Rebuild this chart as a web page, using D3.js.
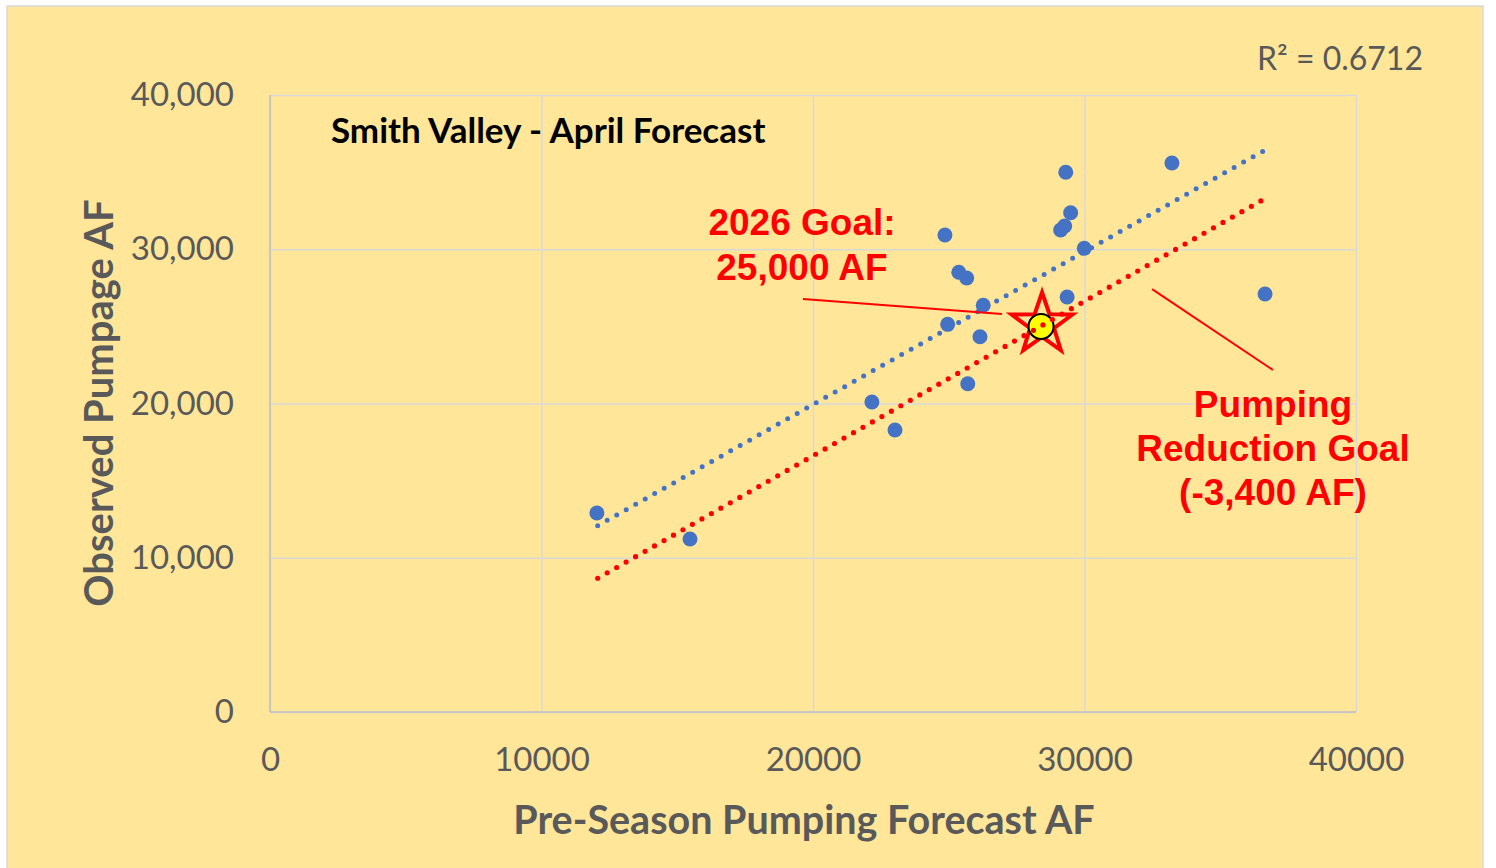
<!DOCTYPE html>
<html>
<head>
<meta charset="utf-8">
<script src="https://cdn.jsdelivr.net/npm/d3@7"></script>
<style>
  body { margin: 0; background: #fff; }
  svg text { font-family: Lato, "Open Sans", sans-serif; }
</style>
</head>
<body>
<script>
let width = 1496;
let height = 868;
// plot area inside the chart box
let margin = { top: 95, right: 140, bottom: 156, left: 270 };

// Pre-Season Pumping Forecast AF
const forecastAF = [12040, 15470, 22170, 23020, 24860, 24960, 25370, 25660, 25700, 26150,
  26270, 29310, 29490, 29120, 29270, 29360, 29990, 33220, 36650];
// Observed Pumpage AF
const observedAF = [12900, 11220, 20100, 18280, 30920, 25130, 28510, 28140, 21280, 24330,
  26370, 34990, 32370, 31250, 31510, 26900, 30060, 35590, 27100];

const trendEnds = [[12070, 12080], [36720, 36500]];
const goalEnds = [[12070, 8670], [36720, 33360]];
const goalPoint = [28400, 25000];

const xTicks = [0, 10000, 20000, 30000, 40000];
const yTicks = [0, 10000, 20000, 30000, 40000];

const data = forecastAF.map((f, i) => ({ x: f, y: observedAF[i] }));

// 比例尺
let x = d3.scaleLinear().domain([0, 40000]).range([margin.left, width - margin.right]);
let y = d3.scaleLinear().domain([0, 40000]).range([height - margin.bottom, margin.top]);

const svg = d3.select('body')
  .append('svg')
  .attr('width', width)
  .attr('height', height);

// chart box
svg.append('rect')
  .attr('x', 7).attr('y', 6)
  .attr('width', 1476).attr('height', 880)
  .attr('fill', '#FFE699')
  .attr('stroke', '#D9D9D9')
  .attr('stroke-width', 1.5);

// gridlines + tick labels
const gx = svg.append('g')
  .attr('transform', `translate(0, ${y(0)})`)
  .call(d3.axisBottom(x).tickValues(xTicks).tickFormat(d3.format('d'))
    .tickSize(-(y(0) - y(40000))).tickPadding(36))
  .call(g => g.select('.domain').remove());

const gy = svg.append('g')
  .attr('transform', `translate(${x(0)}, 0)`)
  .call(d3.axisLeft(y).tickValues(yTicks).tickFormat(d3.format(','))
    .tickSize(-(x(40000) - x(0))).tickPadding(36))
  .call(g => g.select('.domain').remove());

svg.selectAll('.tick line')
  .attr('stroke', '#D9D9D9')
  .attr('stroke-width', 1.5);
svg.selectAll('.tick text')
  .attr('fill', '#595959')
  .style('font-size', '33px');

// axis lines
svg.append('line')
  .attr('x1', x(0)).attr('x2', x(40000))
  .attr('y1', y(0)).attr('y2', y(0))
  .attr('stroke', '#BFBFBF').attr('stroke-width', 1.5);
svg.append('line')
  .attr('x1', x(0)).attr('x2', x(0))
  .attr('y1', y(0)).attr('y2', y(40000))
  .attr('stroke', '#BFBFBF').attr('stroke-width', 1.5);

// star + goal marker
const starPath = (cx, cy, R, r) => {
  const pts = [];
  for (let i = 0; i < 10; i++) {
    const a = -Math.PI / 2 + i * Math.PI / 5;
    const rr = i % 2 === 0 ? R : r;
    pts.push([cx + rr * Math.cos(a), cy + rr * Math.sin(a)]);
  }
  return 'M' + pts.join('L') + 'Z';
};

// points
svg.append('g')
  .attr('fill', '#4472C4')
  .selectAll('circle')
  .data(data)
  .enter().append('circle')
  .attr('cx', d => x(d.x))
  .attr('cy', d => y(d.y))
  .attr('r', 7.5);

const line = d3.line().x(d => x(d[0])).y(d => y(d[1]));

svg.append('path')
  .attr('d', line(trendEnds))
  .attr('fill', 'none')
  .attr('stroke', '#4472C4')
  .attr('stroke-width', 5)
  .attr('stroke-linecap', 'round')
  .attr('stroke-dasharray', '0 10.9');

svg.append('path')
  .attr('d', starPath(x(goalPoint[0]) + 1, y(goalPoint[1]) - 2, 32, 12.6))
  .attr('fill', 'none')
  .attr('stroke', '#FF0000')
  .attr('stroke-width', 4)
  .attr('stroke-linejoin', 'miter');

svg.append('circle')
  .attr('cx', x(goalPoint[0]))
  .attr('cy', y(goalPoint[1]))
  .attr('r', 12.5)
  .attr('fill', '#FFFF00')
  .attr('stroke', '#000')
  .attr('stroke-width', 2);

svg.append('path')
  .attr('d', line(goalEnds))
  .attr('fill', 'none')
  .attr('stroke', '#FF0000')
  .attr('stroke-width', 5.2)
  .attr('stroke-linecap', 'round')
  .attr('stroke-dasharray', '0 10.9');

// leader lines
const leaders = [
  [[19630, 26770], [26960, 25800]],
  [[32490, 27420], [36940, 22170]]
];
svg.append('g')
  .selectAll('path')
  .data(leaders)
  .enter().append('path')
  .attr('d', d => line(d))
  .attr('stroke', '#FF0000')
  .attr('stroke-width', 2);

// annotation text
const note = (lines, cx, baselines) => {
  lines.forEach((t, i) => {
    svg.append('text')
      .attr('x', cx).attr('y', baselines[i])
      .attr('text-anchor', 'middle')
      .attr('fill', '#FF0000')
      .style('font-family', '"Liberation Sans", Arial, sans-serif')
      .style('font-weight', 'bold')
      .style('font-size', '37px')
      .text(t);
  });
};
note(['2026 Goal:', '25,000 AF'], 802, [235, 280]);
note(['Pumping', 'Reduction Goal', '(-3,400 AF)'], 1273, [417, 461, 505]);

// titles
svg.append('text')
  .attr('x', 331).attr('y', 143)
  .attr('fill', '#000')
  .style('font-weight', 'bold')
  .style('font-size', '35px')
  .text('Smith Valley - April Forecast');

svg.append('text')
  .attr('x', 1423).attr('y', 70)
  .attr('text-anchor', 'end')
  .attr('fill', '#595959')
  .style('font-size', '32px')
  .text('R² = 0.6712');

svg.append('text')
  .attr('x', 804).attr('y', 834)
  .attr('text-anchor', 'middle')
  .attr('fill', '#595959')
  .style('font-weight', 'bold')
  .style('font-size', '39.5px')
  .text('Pre-Season Pumping Forecast AF');

svg.append('text')
  .attr('transform', 'translate(113, 403) rotate(-90)')
  .attr('text-anchor', 'middle')
  .attr('fill', '#595959')
  .style('font-weight', 'bold')
  .style('font-size', '40px')
  .text('Observed Pumpage AF');
</script>
</body>
</html>
